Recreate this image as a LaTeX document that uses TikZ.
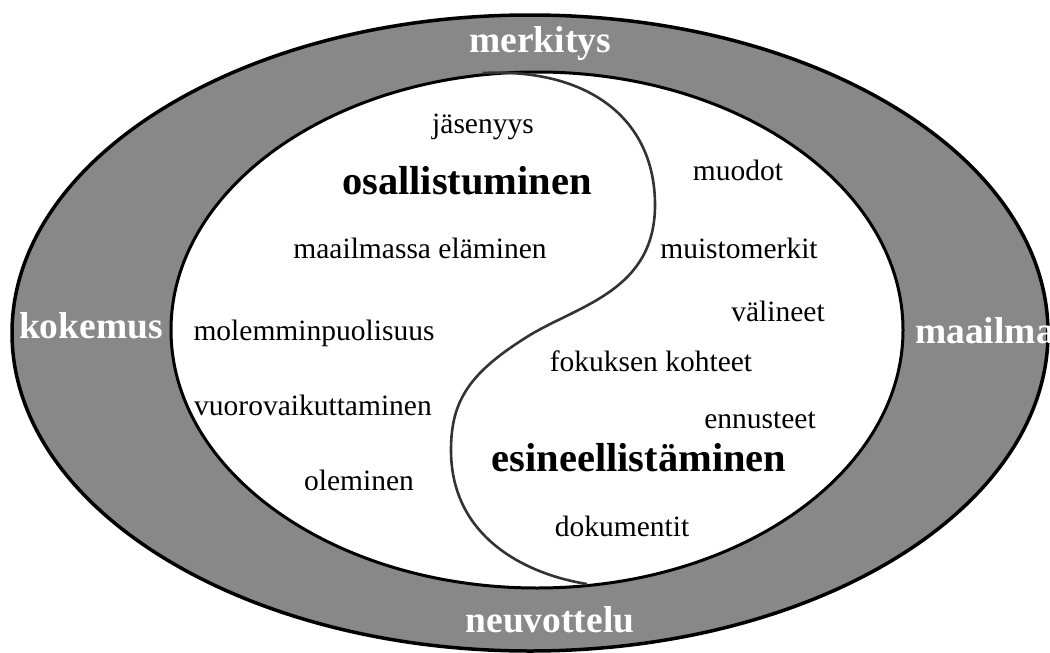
\documentclass[tikz,border=0pt]{standalone}
\usepackage{fontspec}
\setmainfont{Liberation Serif}
\definecolor{ringgray}{RGB}{136,136,136}
\definecolor{curvegray}{RGB}{51,51,51}
\tikzset{
  lbl/.style={font=\fontsize{29.5}{32}\selectfont, inner sep=0pt, anchor=base},
  big/.style={font=\bfseries\fontsize{40.5}{44}\selectfont, inner sep=0pt, anchor=base},
  ringlbl/.style={font=\bfseries\fontsize{37.5}{40}\selectfont, text=white, inner sep=0pt, anchor=base},
}
\begin{document}
\begin{tikzpicture}[x=1pt,y=-1pt]
\clip (0,0) rectangle (1050,653);
\fill[white] (0,0) rectangle (1050,653);
% rings
\filldraw[fill=ringgray, draw=black, line width=3.5pt] (530,333) ellipse [x radius=518, y radius=318];
\filldraw[fill=white, draw=black, line width=3pt] (537,330) ellipse [x radius=366, y radius=258];
% S-curve
\coordinate (stop) at (483,73);
\coordinate (sbot) at (587,584);
\draw[curvegray, line width=2.6pt]
  (stop) .. controls (590,68) and (655,120) .. (655,205)
  .. controls (655,290) and (580,305) .. (530,335)
  .. controls (470,372) and (451,400) .. (451,450)
  .. controls (451,540) and (530,575) .. (sbot);
% ring labels
\node[ringlbl] (merkitys) at (540,52) {merkitys};
\node[ringlbl] (kokemus) at (91,338) {kokemus};
\node[ringlbl, anchor=base west] (maailma) at (915,343) {maailma};
\node[ringlbl] (neuvottelu) at (550,632) {neuvottelu};
% left side
\node[lbl] (jasenyys) at (483,133) {jäsenyys};
\node[big] (osall) at (467,194) {osallistuminen};
\node[lbl] (maailmassa) at (420,258) {maailmassa eläminen};
\node[lbl] (molemmin) at (314,340) {molemminpuolisuus};
\node[lbl] (vuoro) at (313,415) {vuorovaikuttaminen};
\node[lbl] (oleminen) at (359,490) {oleminen};
% right side
\node[lbl] (muodot) at (738,180) {muodot};
\node[lbl] (muisto) at (739,258) {muistomerkit};
\node[lbl] (valineet) at (778,321) {välineet};
\node[lbl] (fokus) at (651,371) {fokuksen kohteet};
\node[lbl] (ennusteet) at (760,428) {ennusteet};
\node[big] (esine) at (639,471) {esineellistäminen};
\node[lbl] (dokumentit) at (622,536) {dokumentit};
\end{tikzpicture}
\end{document}
